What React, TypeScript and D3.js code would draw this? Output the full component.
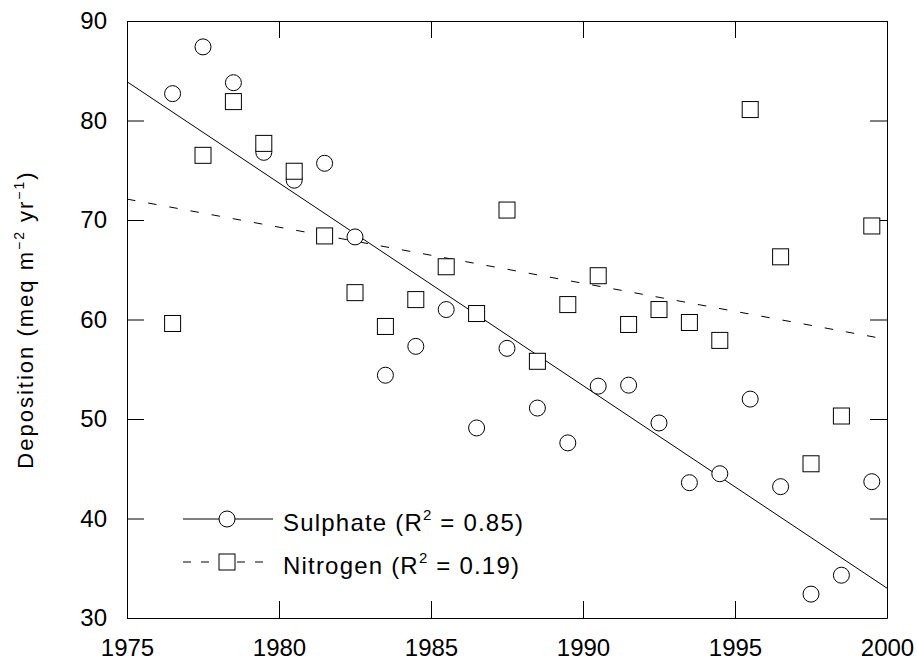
import React, { useRef, useEffect } from 'react';
import * as d3 from 'd3';

const years = [1976.5, 1977.5, 1978.5, 1979.5, 1980.5, 1981.5, 1982.5, 1983.5, 1984.5, 1985.5, 1986.5, 1987.5,
  1988.5, 1989.5, 1990.5, 1991.5, 1992.5, 1993.5, 1994.5, 1995.5, 1996.5, 1997.5, 1998.5, 1999.5];
const sulphate = [82.7, 87.4, 83.8, 76.8, 74.0, 75.7, 68.3, 54.4, 57.3, 61.0, 49.1, 57.1,
  51.1, 47.6, 53.3, 53.4, 49.6, 43.6, 44.5, 52.0, 43.2, 32.4, 34.3, 43.7];
const nitrogen = [59.6, 76.5, 81.9, 77.7, 74.9, 68.4, 62.7, 59.3, 62.0, 65.3, 60.6, 71.0,
  55.8, 61.5, 64.4, 59.5, 61.0, 59.7, 57.9, 81.1, 66.3, 45.5, 50.3, 69.4];

// regression lines, end points
const fitYears = [1975, 2000];
const sulphateFit = [83.9, 33.0];
const nitrogenFit = [72.1, 58.0];

const xTicks = [1975, 1980, 1985, 1990, 1995, 2000];
const yTicks = [30, 40, 50, 60, 70, 80, 90];

const FONT = "'Liberation Sans', Arial, sans-serif";

export default function App() {
  const svgRef = useRef<SVGSVGElement>(null);

  const width = 917;
  const height = 663;
  const margin = { top: 21, right: 30, bottom: 45, left: 127 };

  useEffect(() => {
    const svg = d3.select(svgRef.current);
    svg.selectAll('*').remove();

    const x = d3.scaleLinear().domain([1975, 2000]).range([margin.left, width - margin.right]);
    const y = d3.scaleLinear().domain([30, 90]).range([height - margin.bottom, margin.top]);

    const tick = 17;

    // axes, ticks pointing inward on all four sides
    const bottom = svg.append('g')
      .attr('transform', `translate(0,${y(30)})`)
      .call(d3.axisBottom(x).tickValues(xTicks).tickSize(-tick).tickSizeOuter(0).tickPadding(21).tickFormat(d3.format('d')));
    const left = svg.append('g')
      .attr('transform', `translate(${x(1975)},0)`)
      .call(d3.axisLeft(y).tickValues(yTicks).tickSize(-tick).tickSizeOuter(0).tickPadding(20));
    svg.append('g')
      .attr('transform', `translate(0,${y(90)})`)
      .call(d3.axisTop(x).tickValues(xTicks).tickSize(-tick).tickSizeOuter(0).tickFormat(() => ''));
    svg.append('g')
      .attr('transform', `translate(${x(2000)},0)`)
      .call(d3.axisRight(y).tickValues(yTicks).tickSize(-tick).tickSizeOuter(0).tickFormat(() => ''));

    svg.selectAll('.domain, .tick line').attr('stroke', '#000');
    [bottom, left].forEach(g => g.selectAll('text')
      .attr('font-family', FONT).attr('font-size', 24).attr('fill', '#000'));

    const line = d3.line<number>().x((d, i) => x(fitYears[i])).y(d => y(d));

    svg.append('path').datum(sulphateFit).attr('d', line)
      .attr('fill', 'none').attr('stroke', '#000').attr('stroke-width', 1);
    svg.append('path').datum(nitrogenFit).attr('d', line)
      .attr('fill', 'none').attr('stroke', '#000').attr('stroke-width', 1)
      .attr('stroke-dasharray', '8.5,13');

    const r = 8;
    svg.append('g').selectAll('circle').data(sulphate).join('circle')
      .attr('cx', (d, i) => x(years[i])).attr('cy', d => y(d)).attr('r', r)
      .attr('fill', '#fff').attr('stroke', '#000');
    svg.append('g').selectAll('rect').data(nitrogen).join('rect')
      .attr('x', (d, i) => x(years[i]) - r).attr('y', d => y(d) - r)
      .attr('width', 2 * r).attr('height', 2 * r)
      .attr('fill', '#fff').attr('stroke', '#000');

    // legend
    const lg = svg.append('g').attr('font-family', FONT).attr('font-size', 24).attr('letter-spacing', 1.2);
    const lx0 = 183, lx1 = 273, lmx = 227, ltx = 283;
    const rows = [
      { y: 519, dash: null, label: 'Sulphate', r2: '0.85', shape: 'circle' },
      { y: 562, dash: '8,10', label: 'Nitrogen', r2: '0.19', shape: 'rect' },
    ];
    rows.forEach(row => {
      lg.append('line').attr('x1', lx0).attr('x2', lx1).attr('y1', row.y).attr('y2', row.y)
        .attr('stroke', '#000').attr('stroke-dasharray', row.dash);
      if (row.shape === 'circle') {
        lg.append('circle').attr('cx', lmx).attr('cy', row.y).attr('r', r).attr('fill', '#fff').attr('stroke', '#000');
      } else {
        lg.append('rect').attr('x', lmx - r).attr('y', row.y - r).attr('width', 2 * r).attr('height', 2 * r)
          .attr('fill', '#fff').attr('stroke', '#000');
      }
      const t = lg.append('text').attr('x', ltx).attr('y', row.y + 12);
      t.append('tspan').text(`${row.label} (R`);
      t.append('tspan').attr('font-size', 15).attr('dy', -11).text('2');
      t.append('tspan').attr('dy', 11).text(` = ${row.r2})`);
    });

    // y axis title
    const yt = svg.append('text')
      .attr('transform', `translate(33,${(y(30) + y(90)) / 2}) rotate(-90)`)
      .attr('text-anchor', 'middle').attr('font-family', FONT).attr('font-size', 22).attr('letter-spacing', 2);
    yt.append('tspan').text('Deposition (meq m');
    yt.append('tspan').attr('font-size', 14).attr('dy', -9).text('\u22122');
    yt.append('tspan').attr('dy', 9).text(' yr');
    yt.append('tspan').attr('font-size', 14).attr('dy', -9).text('\u22121');
    yt.append('tspan').attr('dy', 9).text(')');
  }, []);

  return (
    <svg ref={svgRef} width={width} height={height}
      style={{ position: 'absolute', left: 0, top: 0, background: '#fff' }} />
  );
}
